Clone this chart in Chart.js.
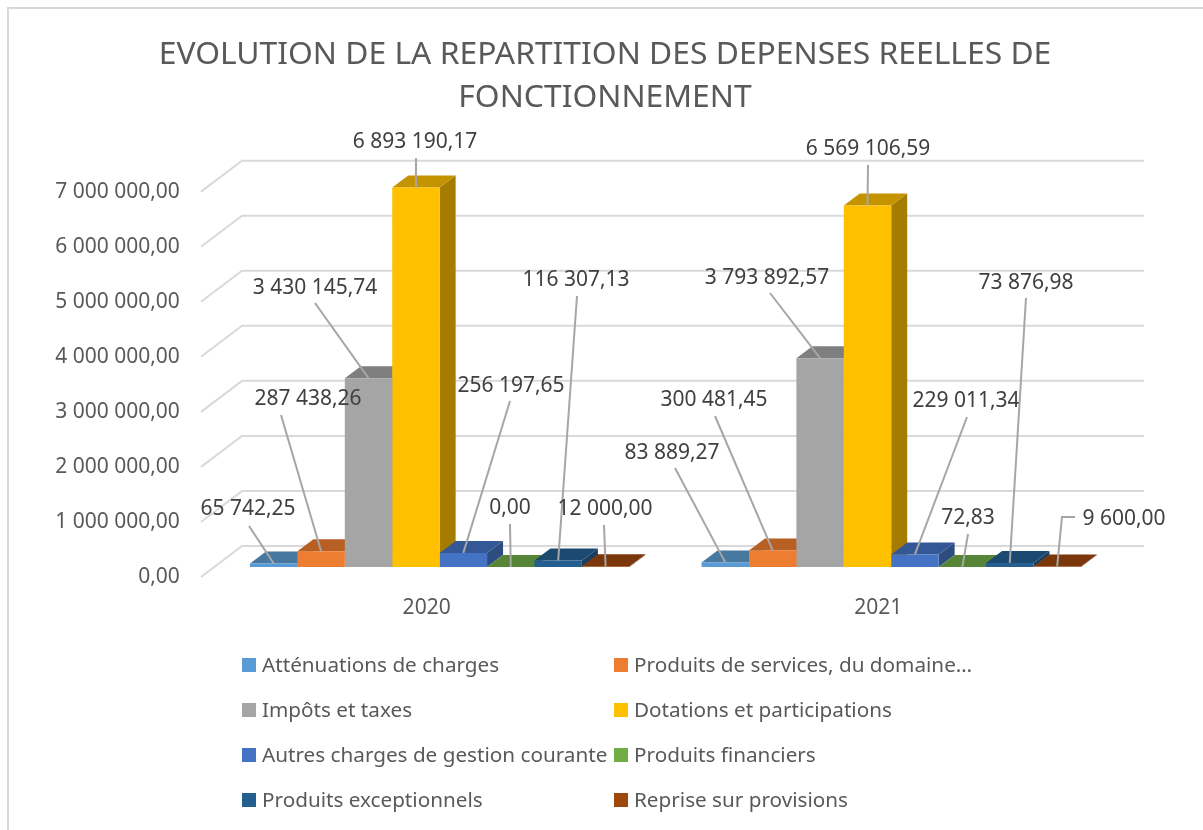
<!DOCTYPE html>
<html><head><meta charset="utf-8">
<script src="https://cdn.jsdelivr.net/npm/chart.js@4"></script>
<style>html,body{margin:0;padding:0;background:#fff;overflow:hidden}canvas{display:block}</style>
</head><body><canvas id="c" width="1203" height="830"></canvas>
<script>
const categories = ['2020', '2021'];
const attenuations = [65742.25, 83889.27];
const produitsServices = [287438.26, 300481.45];
const impots = [3430145.74, 3793892.57];
const dotations = [6893190.17, 6569106.59];
const autresCharges = [256197.65, 229011.34];
const produitsFinanciers = [0, 72.83];
const produitsExceptionnels = [116307.13, 73876.98];
const repriseProvisions = [12000, 9600];
const seriesNames = ['Atténuations de charges','Produits de services, du domaine…','Impôts et taxes','Dotations et participations','Autres charges de gestion courante','Produits financiers','Produits exceptionnels','Reprise sur provisions'];
const seriesValues = [attenuations, produitsServices, impots, dotations, autresCharges, produitsFinanciers, produitsExceptionnels, repriseProvisions];
const frontColors = ['#5B9BD5','#ED7D31','#A5A5A5','#FFC000','#4472C4','#70AD47','#255E91','#9E480E'];
const topColors   = ['#47789F','#B85F24','#7F7F7F','#C49400','#345896','#568537','#1C4970','#7A370B'];
const sideColors  = ['#3C6690','#A0521E','#6C6C6C','#A67C00','#2D4C80','#4A722F','#183E60','#69300A'];
const titleLines = ['EVOLUTION DE LA REPARTITION DES DEPENSES REELLES DE','FONCTIONNEMENT'];
// data-label placement: [text centre x, text centre y, leader start x, leader start y, optional elbow x, elbow y]
const labelPlaces2020 = [[248,509,249,526],[308,399,281,415],[315,288,315,303],[415,142,416,158],[511,386,510,401],[510,508,510,524],[576,280,577,296],[605,509,604,525]];
const labelPlaces2021 = [[672,453,675,468],[714,400,715,416],[767,278,770,293],[868,149,868,165],[966,401,967,417],[968,518,968,534],[1026,283,1026,298],[1124,519,1075,517,1062,517]];
const labelPlaces = [labelPlaces2020, labelPlaces2021];

const FONT = '"Noto Sans", sans-serif';
const DEPTH_X = 16, DEPTH_Y = 12;
const fmt = v => { const [a,b] = v.toFixed(2).split('.'); return a.replace(/\B(?=(\d{3})+$)/g,' ') + ',' + b; };

const scene = {
  id: 'scene',
  afterLayout(chart){ chart.scales.y.left = 0; },
  beforeDraw(chart){
    const {ctx} = chart;
    ctx.save();
    ctx.fillStyle = '#fff'; ctx.fillRect(0,0,chart.width,chart.height);
    ctx.strokeStyle = '#D9D9D9'; ctx.lineWidth = 2;
    ctx.beginPath(); ctx.moveTo(8,830); ctx.lineTo(8,8); ctx.lineTo(1203,8); ctx.stroke();
    ctx.restore();
  },
  beforeDatasetsDraw(chart){
    const {ctx, scales:{y}} = chart;
    ctx.save();
    ctx.strokeStyle = '#D9D9D9'; ctx.lineWidth = 2;
    y.ticks.forEach(t => {
      const py = y.getPixelForValue(t.value);
      ctx.beginPath(); ctx.moveTo(201,py+10); ctx.lineTo(242,py-21); ctx.lineTo(1144,py-21); ctx.stroke();
    });
    seriesValues.forEach((_,i) => {
      chart.getDatasetMeta(i).data.forEach(b => {
        const l=b.x-b.width/2, r=b.x+b.width/2, t=b.y, base=b.base;
        ctx.fillStyle = sideColors[i];
        ctx.beginPath(); ctx.moveTo(r,t); ctx.lineTo(r+DEPTH_X,t-DEPTH_Y); ctx.lineTo(r+DEPTH_X,base-DEPTH_Y); ctx.lineTo(r,base); ctx.closePath(); ctx.fill();
        ctx.fillStyle = topColors[i];
        ctx.beginPath(); ctx.moveTo(l,t); ctx.lineTo(l+DEPTH_X,t-DEPTH_Y); ctx.lineTo(r+DEPTH_X,t-DEPTH_Y); ctx.lineTo(r,t); ctx.closePath(); ctx.fill();
      });
    });
    ctx.restore();
  },
  afterDatasetsDraw(chart){
    const {ctx} = chart;
    ctx.save();
    ctx.strokeStyle = '#A6A6A6'; ctx.lineWidth = 2;
    ctx.font = '21px '+FONT; ctx.fillStyle = '#404040';
    ctx.textAlign = 'center'; ctx.textBaseline = 'middle';
    seriesValues.forEach((vals,i) => {
      chart.getDatasetMeta(i).data.forEach((b,j) => {
        const p = labelPlaces[j][i];
        ctx.beginPath(); ctx.moveTo(p[2],p[3]);
        if (p.length > 4) ctx.lineTo(p[4],p[5]);
        ctx.lineTo(b.x,b.y); ctx.stroke();
        ctx.fillText(fmt(vals[j]), p[0], p[1]);
      });
    });
    // legend
    ctx.textAlign = 'left'; ctx.font = '20.7px '+FONT;
    seriesNames.forEach((n,i) => {
      const col = i%2, row = (i-col)/2;
      const x = col ? 614 : 242, yy = 665 + row*45;
      ctx.fillStyle = frontColors[i]; ctx.fillRect(x,yy-7,14,14);
      ctx.fillStyle = '#595959'; ctx.fillText(n, x+20, yy+1);
    });
    ctx.restore();
  }
};

new Chart(document.getElementById('c'), {
  type: 'bar',
  data: {
    labels: categories,
    datasets: seriesNames.map((n,i) => ({
      label: n, data: seriesValues[i], backgroundColor: frontColors[i],
      borderWidth: 0, categoryPercentage: 0.84, barPercentage: 1
    }))
  },
  options: {
    responsive: false, animation: false,
    layout: { padding: { left: 93, right: 86, top: 0, bottom: 203 } },
    plugins: {
      legend: { display: false },
      tooltip: { enabled: false },
      title: { display: true, text: titleLines, color: '#595959',
        font: { family: FONT, size: 31.8, weight: 'normal', lineHeight: 1.35 },
        padding: { top: 33.5, bottom: 62.3 } }
    },
    scales: {
      x: { grid: { display: false, drawTicks: false }, border: { display: false },
        ticks: { color: '#595959', font: { family: FONT, size: 21 }, padding: 28, labelOffset: -13, maxRotation: 0 },
        afterFit(s){ s.height = 60; } },
      y: { min: 0, max: 7000000, grid: { display: false, drawTicks: false }, border: { display: false },
        ticks: { stepSize: 1000000, color: '#595959', font: { family: FONT, size: 21 }, padding: 34, labelOffset: 10,
          callback: v => fmt(v) },
        afterFit(s){ s.width = 120.85; } }
    }
  },
  plugins: [scene]
});
</script></body></html>
